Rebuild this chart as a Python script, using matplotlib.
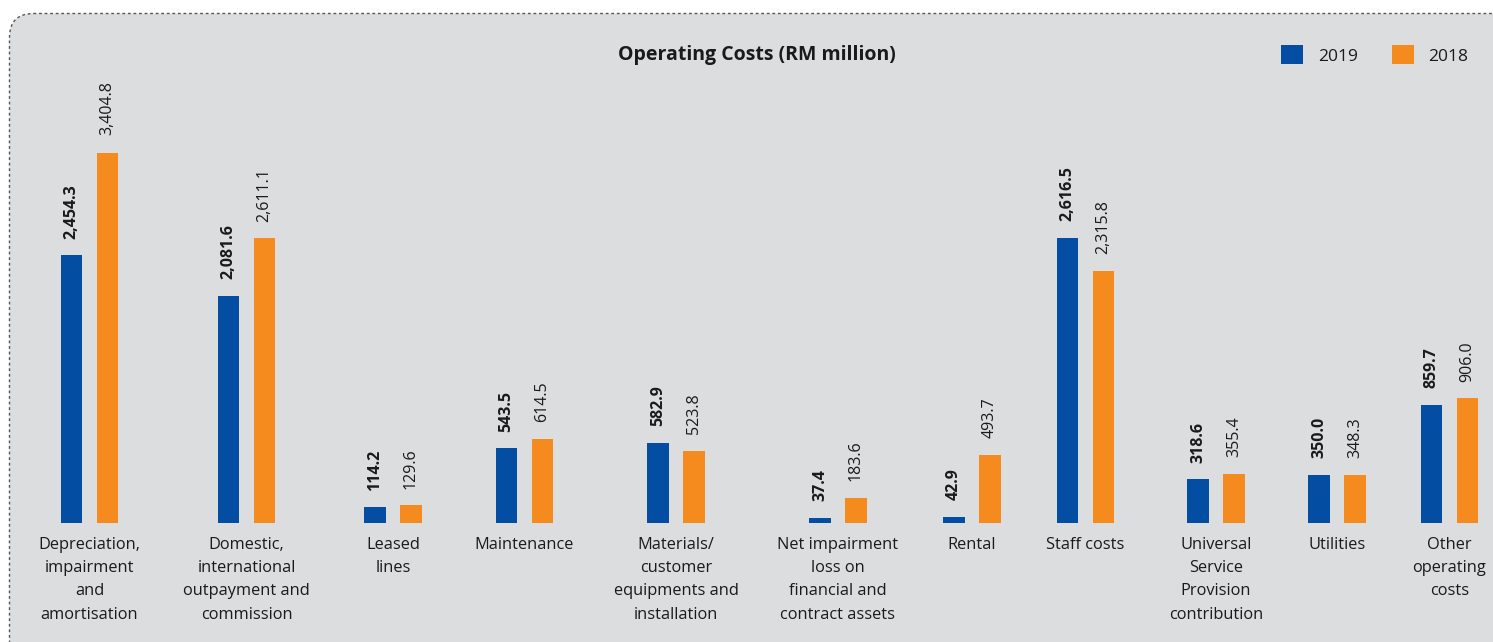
import matplotlib
matplotlib.use("Agg")
import numpy as np
import matplotlib.pyplot as plt
from matplotlib.patches import FancyBboxPatch

# ---------------- data ----------------
categories = [
    "Depreciation,\nimpairment\nand\namortisation",
    "Domestic,\ninternational\noutpayment and\ncommission",
    "Leased\nlines",
    "Maintenance",
    "Materials/\ncustomer\nequipments and\ninstallation",
    "Net impairment\nloss on\nfinancial and\ncontract assets",
    "Rental",
    "Staff costs",
    "Universal\nService\nProvision\ncontribution",
    "Utilities",
    "Other\noperating\ncosts",
]
values_2019 = [2454.3, 2081.6, 114.2, 543.5, 582.9, 37.4, 42.9, 2616.5, 318.6, 350.0, 859.7]
values_2018 = [3404.8, 2611.1, 129.6, 614.5, 523.8, 183.6, 493.7, 2315.8, 355.4, 348.3, 906.0]
series_names = ["2019", "2018"]
title = "Operating Costs (RM million)"

# ---------------- layout ----------------
W, H = 1493, 642
group_centers = [89.5, 246.5, 393, 524.5, 676, 838, 972, 1085.5, 1216, 1337, 1449.5]
bar_w = 21.5
bar_off = 18
blue = "#034ea2"
orange = "#f58a1f"
bg = "#dcdddf"
txt = "#1a1a1a"
plt.rcParams["font.family"] = ["Open Sans", "DejaVu Sans"]

# the source artwork compresses the upper part of its value axis;
# reproduce with a piecewise-linear axis scale (value -> relative height)
scale_v = [0, 1000, 2000, 3600]
scale_h = [0, 137.5, 218, 392.4]
def fwd(v):
    return np.interp(v, scale_v, scale_h, left=0, right=scale_h[-1])
def inv(h):
    return np.interp(h, scale_h, scale_v, left=0, right=scale_v[-1])

fig = plt.figure(figsize=(W / 100, H / 100), dpi=100)
fig.patch.set_facecolor("white")

bg_ax = fig.add_axes([0, 0, 1, 1])
bg_ax.set_xlim(0, W)
bg_ax.set_ylim(H, 0)
bg_ax.axis("off")
box = FancyBboxPatch((9.5, 13.5), 1700, 660,
                     boxstyle="round,pad=0,rounding_size=24",
                     facecolor=bg, edgecolor="#555555", linewidth=1.0,
                     linestyle=(0, (2, 2)))
bg_ax.add_patch(box)

base_px = 523
top_px = 153
ax = fig.add_axes([0, (H - base_px) / H, 1, (base_px - top_px) / H])
ax.set_facecolor("none")
ax.set_xlim(0, W)
ax.set_yscale("function", functions=(fwd, inv))
ax.set_ylim(0, float(inv(base_px - top_px)))
ax.axis("off")

xs19 = [c - bar_off for c in group_centers]
xs18 = [c + bar_off for c in group_centers]
b1 = ax.bar(xs19, values_2019, width=bar_w, color=blue, label=series_names[0])
b2 = ax.bar(xs18, values_2018, width=bar_w, color=orange, label=series_names[1])

for x, v in zip(xs19, values_2019):
    ax.annotate(f"{v:,.1f}", (x, v), xytext=(0, 12), textcoords="offset points",
                rotation=90, ha="center", va="bottom", fontsize=11.5,
                fontweight="bold", color=txt, annotation_clip=False)
for x, v in zip(xs18, values_2018):
    ax.annotate(f"{v:,.1f}", (x, v), xytext=(0, 12), textcoords="offset points",
                rotation=90, ha="center", va="bottom", fontsize=11.5,
                color=txt, annotation_clip=False)

for c, lab in zip(group_centers, categories):
    bg_ax.text(c, 537, lab, ha="center", va="top", fontsize=11.8,
               color=txt, linespacing=1.6)

bg_ax.text(757, 55, title, ha="center", va="center", fontsize=14,
           fontweight="bold", color=txt)

leg = ax.legend(handles=[b1, b2], loc="center left",
                bbox_to_anchor=(1281, 55), bbox_transform=bg_ax.transData,
                frameon=False, ncol=2, fontsize=12.5, handlelength=1.27,
                handleheight=1.27, handletextpad=0.85, columnspacing=1.95,
                borderpad=0, borderaxespad=0)
for t in leg.get_texts():
    t.set_color(txt)

fig.savefig("out.png", dpi=100, facecolor="white")
